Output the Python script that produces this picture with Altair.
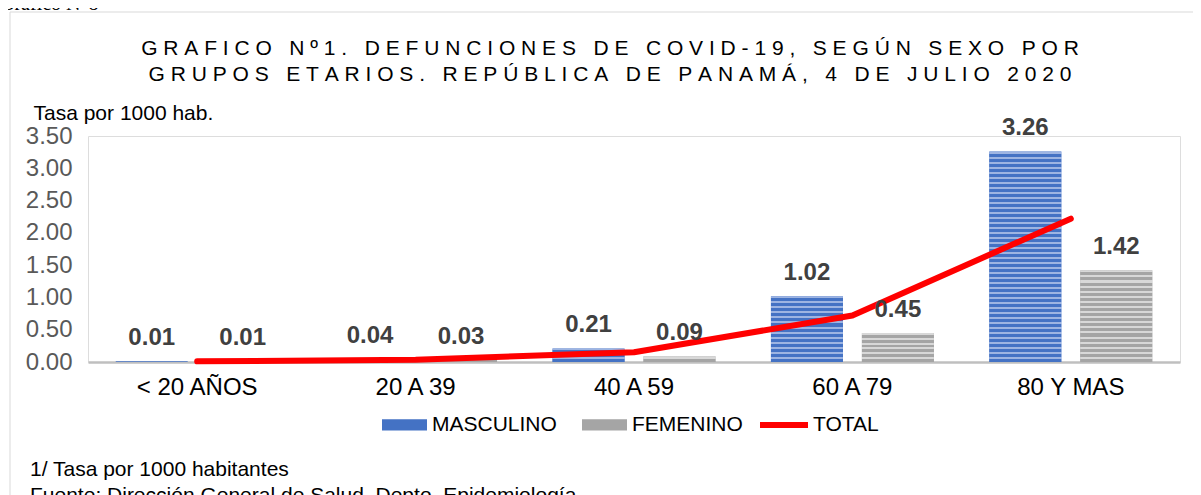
import altair as alt
import pandas as pd

# ---------------- data ----------------
grupos = ["< 20 AÑOS", "20 A 39", "40 A 59", "60 A 79", "80 Y MAS"]
sexos = ["MASCULINO", "FEMENINO"]
masculino = [0.01, 0.04, 0.21, 1.02, 3.26]
femenino = [0.01, 0.03, 0.09, 0.45, 1.42]
total = [0.01, 0.035, 0.15, 0.72, 2.22]
serie_total = ["TOTAL"]
y_ticks = [0.0, 0.5, 1.0, 1.5, 2.0, 2.5, 3.0, 3.5]
titulo = [
    "GRAFICO Nº1. DEFUNCIONES DE COVID-19, SEGÚN SEXO POR",
    "GRUPOS ETARIOS. REPÚBLICA DE PANAMÁ, 4 DE JULIO 2020",
]
eje_y_titulo = "Tasa por 1000 hab."
notas = ["1/ Tasa por 1000 habitantes",
         "Fuente: Dirección General de Salud. Depto. Epidemiología."]
encabezado = "Grafico N°8"

# ---------------- tables ----------------
bars = pd.DataFrame({
    "grupo": grupos * 2,
    "sexo": [sexos[0]] * len(grupos) + [sexos[1]] * len(grupos),
    "valor": masculino + femenino,
})
linea = pd.DataFrame({"grupo": grupos, "serie": serie_total * len(grupos), "valor": total})

W, H = 1092, 226
YMAX = 3.5
FONT = "Arial"


def spaced(s):
    return "\u00a0".join(ch if ch != " " else "\u00a0" for ch in s)


x_enc = alt.X("grupo:N", sort=grupos,
              scale=alt.Scale(domain=grupos, paddingInner=0, paddingOuter=0),
              axis=alt.Axis(title=None, labelAngle=0, labelFontSize=24, labelColor="#000000",
                            labelFont=FONT, labelPadding=13, ticks=False,
                            domainColor="#BFBFBF", domainWidth=2.5))
xoff = alt.XOffset("sexo:N", sort=sexos,
                   scale=alt.Scale(domain=sexos, paddingInner=0.209, paddingOuter=0.305))
y_enc = alt.Y("valor:Q",
              scale=alt.Scale(domain=[0, YMAX], nice=False, zero=True),
              axis=alt.Axis(values=y_ticks, format=".2f", grid=False, domain=False, ticks=False,
                            labelFontSize=24, labelColor="#595959", labelFont=FONT, labelPadding=16,
                            title=eje_y_titulo, titleAngle=0, titleAlign="left",
                            titleBaseline="alphabetic", titleX=-55, titleY=-17,
                            titleFontSize=21, titleFontWeight="normal", titleColor="#000000",
                            titleFont=FONT))

one = alt.Data(values=[{}])

frame = alt.Chart(one).mark_rect(fill="white", fillOpacity=0, stroke="#D9D9D9", strokeWidth=1).encode(
    x=alt.value(-78), x2=alt.value(1200), y=alt.value(-124), y2=alt.value(520))

base_bars = alt.Chart(bars).mark_bar().encode(
    x=x_enc, xOffset=xoff, y=y_enc,
    fill=alt.Fill("sexo:N", scale=alt.Scale(domain=sexos, range=["#4472C4", "#A5A5A5"]),
                  legend=alt.Legend(title=None, orient="none", legendX=294, legendY=266,
                                    direction="horizontal",
                                    symbolType="M-1,-0.25H1V0.25H-1Z", symbolSize=2025,
                                    symbolStrokeWidth=0, symbolOpacity=1,
                                    labelFontSize=21, labelColor="#000000", labelFont=FONT,
                                    labelOffset=5, columnPadding=25, padding=0)),
)

# striped texture for each visible bar
stripe_cols = {sexos[0]: ("#4472C4", "#9DB4E2"), sexos[1]: ("#A5A5A5", "#D8D8D8")}
stripe_layers = []
for g, s, v in zip(bars["grupo"], bars["sexo"], bars["valor"]):
    hpx = v * H / YMAX
    if hpx < 4:
        continue
    n = max(1, round(hpx / 5.0))
    dark, light = stripe_cols[s]
    stops = []
    for i in range(n):
        a = i / n
        b = min(1.0, (i + 0.4) / n)
        c = min(1.0, (i + 1) / n)
        stops += [alt.GradientStop(offset=a, color=light), alt.GradientStop(offset=b, color=light),
                  alt.GradientStop(offset=b, color=dark), alt.GradientStop(offset=c, color=dark)]
    grad = alt.LinearGradient(gradient="linear", stops=stops, x1=0, x2=0, y1=0, y2=1)
    stripe_layers.append(
        alt.Chart(bars).transform_filter((alt.datum.grupo == g) & (alt.datum.sexo == s))
        .mark_bar(fill=grad).encode(x=x_enc, xOffset=xoff, y=y_enc)
    )

line = alt.Chart(linea).mark_line(strokeWidth=6, strokeCap="round", strokeJoin="round").encode(
    x=x_enc, y=y_enc,
    stroke=alt.Stroke("serie:N", scale=alt.Scale(domain=serie_total, range=["#FF0000"]),
                      legend=alt.Legend(title=None, orient="none", legendX=669, legendY=262,
                                        symbolType="stroke", symbolSize=2304,
                                        symbolStrokeWidth=6, labelFontSize=21,
                                        labelColor="#000000", labelFont=FONT,
                                        labelOffset=2, padding=0)),
)

labels = alt.Chart(bars).mark_text(dy=-16, baseline="alphabetic", fontSize=24, fontWeight="bold",
                                   color="#404040", font=FONT).encode(
    x=x_enc, xOffset=xoff, y=y_enc, text=alt.Text("valor:Q", format=".2f"))

title = alt.Chart(one).mark_text(text=[spaced(t) for t in titulo], align="center",
                                 baseline="alphabetic", fontSize=21, lineHeight=26,
                                 color="#000000", font=FONT).encode(
    x=alt.value(522), y=alt.value(-81))

notes = alt.Chart(one).mark_text(text=notas, align="left", baseline="alphabetic", fontSize=21,
                                 lineHeight=26, color="#000000", font=FONT).encode(
    x=alt.value(-58), y=alt.value(340))

header = alt.Chart(one).mark_text(text=encabezado, align="left", baseline="alphabetic",
                                  fontSize=20, color="#000000", font="Liberation Serif").encode(
    x=alt.value(-88), y=alt.value(-126))

chart = alt.layer(frame, base_bars, *stripe_layers, line, labels, title, notes, header).properties(
    width=W, height=H,
    padding={"left": 80, "top": 128, "right": 13, "bottom": 133},
    autosize=alt.AutoSizeParams(type="none"),
    background="white",
).configure_view(strokeWidth=0).configure(font=FONT)

chart.save("out.html", embed_options={"renderer": "svg", "actions": False})
